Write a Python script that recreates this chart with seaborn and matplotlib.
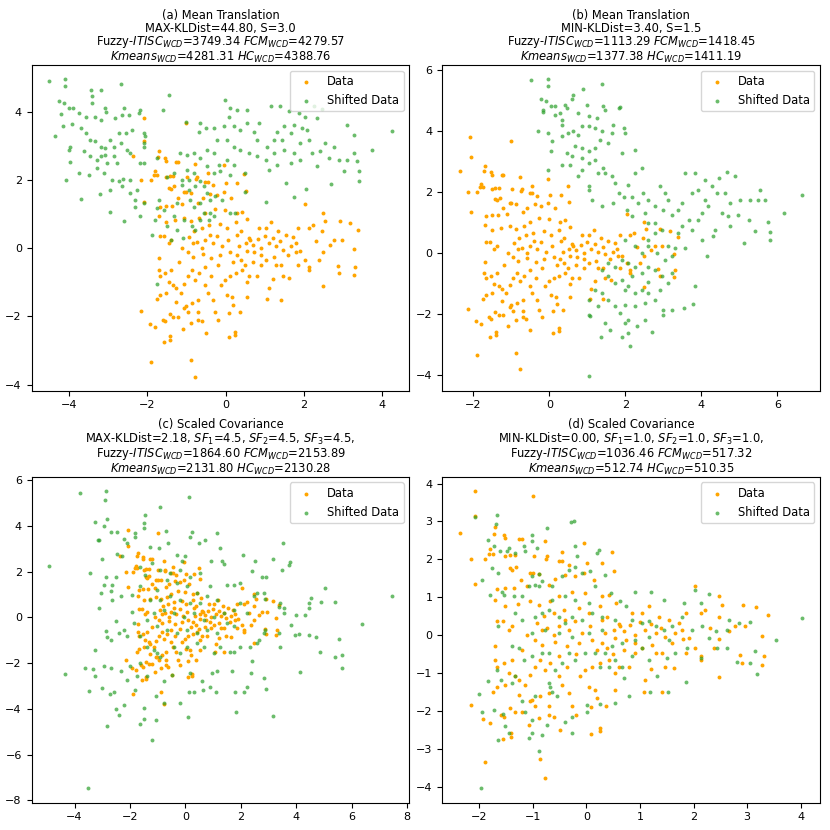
import numpy as np
import pandas as pd
import seaborn as sns
from matplotlib import pyplot as plt

plt.rcParams['font.size'] = 8
plt.rcParams['font.family'] = ['DejaVu Sans']

# Data cloud (same in all four panels)
data_pts = [
    (-2.08, 3.81), (-1.0, 3.68), (-2.07, 3.13), (-2.36, 2.69), (-2.15, 2.01), (-2.07, 1.35),
    (-1.9, 2.0), (-1.7, 2.84), (-1.73, 2.67), (-1.54, 2.65), (-1.52, 2.56), (-1.79, 2.27),
    (-1.82, 2.15), (-1.75, 2.15), (-1.51, 2.08), (-1.42, 2.12), (-1.33, 2.12), (-1.26, 2.54),
    (-1.21, 2.54), (-0.78, 2.48), (-0.98, 2.08), (-0.73, 2.08), (-0.75, 2.02), (-0.45, 2.2),
    (-0.05, 2.43), (0.48, 2.18), (0.51, 1.68), (0.3, 1.9), (0.01, 1.9), (-0.33, 1.86),
    (-0.52, 1.95), (-0.45, 1.95), (-1.43, 1.77), (-1.39, 1.73), (-1.31, 1.81), (-1.22, 1.46),
    (-1.05, 1.64), (-1.0, 1.64), (-0.89, 1.62), (-0.58, 1.48), (-0.39, 1.59), (-0.21, 1.55),
    (-0.05, 1.64), (0.14, 1.46), (-1.67, 1.21), (-1.52, 1.24), (-1.36, 1.24), (-1.11, 1.29),
    (-0.7, 1.33), (-0.52, 1.02), (-0.27, 1.15), (-0.02, 1.11), (0.29, 1.02), (0.42, 1.07),
    (0.55, 0.86), (-1.7, 0.93), (-1.51, 0.76), (-1.28, 0.83), (-1.05, 0.89), (-0.88, 0.8),
    (-0.67, 0.89), (-0.61, 0.58), (-0.42, 0.67), (-0.14, 0.71), (0.04, 0.58), (0.26, 0.76),
    (0.39, 0.49), (-1.67, 0.36), (-1.56, 0.36), (-1.45, 0.14), (-1.39, 0.23), (-0.92, 0.32),
    (-0.83, 0.14), (-0.73, 0.18), (-0.52, 0.23), (-0.33, 0.14), (-0.21, 0.36), (-0.08, 0.05),
    (0.07, 0.23), (0.35, 0.05), (0.51, 0.14), (0.63, 0.23), (0.82, 0.27), (-0.95, -0.12),
    (-0.83, -0.26), (-0.58, -0.17), (-0.36, -0.3), (-0.14, -0.21), (0.11, -0.12), (0.29, -0.21),
    (0.54, -0.08), (0.73, -0.12), (0.91, 0.01), (1.1, 0.14), (1.29, 0.05), (1.47, -0.04),
    (1.66, 0.05), (1.79, 0.14), (1.91, -0.08), (0.85, 0.58), (1.04, 0.58), (1.16, 0.76),
    (1.35, 0.49), (1.54, 0.4), (1.72, 0.32), (1.85, 0.58), (2.03, 1.29), (2.13, 0.58),
    (2.22, 0.67), (2.48, 1.02), (2.53, 0.8), (2.47, 0.49), (2.66, 0.1), (2.77, 0.23),
    (2.92, 0.8), (2.96, 0.23), (3.17, 0.73), (3.39, 0.53), (3.27, -0.02), (3.31, -0.56),
    (3.28, -0.78), (2.87, -0.52), (2.9, -0.74), (2.48, -0.11), (2.38, -0.34), (2.13, -0.65),
    (2.13, -0.56), (2.48, -1.11), (2.03, -0.34), (1.85, -0.48), (1.63, -0.87), (1.46, -0.83),
    (1.41, -0.48), (1.29, -0.48), (1.23, -0.26), (1.41, -1.51), (1.07, -1.49), (1.1, -1.18),
    (0.79, -0.83), (0.6, -0.83), (0.54, -1.0), (0.42, -0.65), (0.26, -0.74), (0.11, -0.83),
    (-0.02, -0.92), (-0.11, -1.09), (0.04, -1.36), (0.17, -1.44), (0.2, -1.66), (0.37, -1.87),
    (0.09, -1.9), (0.09, -2.61), (0.25, -2.46), (0.25, -2.54), (-0.19, -2.1), (-0.27, -1.87),
    (-0.33, -1.53), (-0.45, -1.31), (-0.52, -1.09), (-0.36, -0.83), (-0.52, -0.56), (-0.67, -0.74),
    (-0.77, -0.92), (-0.86, -0.65), (-0.95, -0.83), (-1.05, -1.05), (-1.14, -1.31), (-1.26, -1.18),
    (-1.26, -1.58), (-1.33, -1.09), (-1.45, -1.0), (-1.51, -1.31), (-1.67, -1.36), (-1.75, -1.49),
    (-1.7, -0.3), (-1.71, -0.65), (-1.67, -0.83), (-1.54, -0.74), (-1.38, -0.65), (-1.05, -1.75),
    (-0.95, -1.88), (-0.86, -1.62), (-0.7, -1.53), (-0.7, -1.88), (-0.61, -2.15), (-0.7, -2.1),
    (-0.88, -2.19), (-1.01, -1.71), (-1.21, -2.02), (-1.33, -2.02), (-1.42, -1.93), (-1.54, -2.15),
    (-1.6, -2.1), (-1.79, -2.31), (-1.92, -2.22), (-2.15, -1.84), (-1.56, -2.75), (-1.41, -2.59),
    (-1.41, -2.68), (-1.08, -2.37), (-0.5, -2.5), (-0.87, -3.27), (-1.9, -3.35), (-0.77, -3.78),
    (0.54, -1.44), (0.91, -0.48), (1.04, -0.34), (0.39, -0.34), (0.6, 0.3), (0.7, 0.1),
    (0.9, -0.2), (1.0, 0.35), (1.2, 0.3), (1.4, 0.2), (0.3, 0.4), (0.2, -0.4),
    (-0.2, -0.5), (-0.6, 0.0), (-0.4, 0.4), (-0.8, 0.5), (-1.1, 0.0), (-1.2, -0.4),
    (0.5, -0.5), (0.7, -0.4), (1.6, -0.2), (1.8, -0.1), (2.3, 0.2), (1.2, -0.9),
]

# (a) mean translation, S=3.0
shift_a_pts = [
    (-4.51, 4.91), (-4.1, 4.96), (-4.1, 4.76), (-4.26, 4.32), (-4.13, 4.25), (-4.0, 4.11),
    (-3.9, 4.11), (-4.21, 3.94), (-4.15, 3.57), (-4.36, 3.28), (-3.98, 2.98), (-4.0, 2.89),
    (-3.96, 2.54), (-4.08, 2.0), (-3.68, 1.45), (-3.74, 3.96), (-3.57, 3.86), (-3.92, 3.65),
    (-3.7, 3.52), (-3.57, 3.37), (-3.43, 4.65), (-3.4, 4.45), (-3.4, 4.25), (-3.17, 4.63),
    (-3.32, 3.86), (-3.19, 3.77), (-3.07, 4.11), (-3.04, 3.98), (-2.81, 3.81), (-2.67, 4.81),
    (-2.6, 4.11), (-2.64, 3.91), (-2.47, 3.91), (-2.38, 3.47), (-2.55, 3.37), (-2.19, 4.06),
    (-2.2, 3.96), (-2.09, 3.37), (-2.05, 3.28), (-2.72, 3.37), (-2.94, 3.18), (-3.32, 3.13),
    (-3.45, 3.18), (-3.19, 2.98), (-3.07, 2.93), (-2.85, 2.98), (-2.68, 3.08), (-2.51, 2.89),
    (-2.43, 2.79), (-3.62, 2.84), (-3.45, 2.69), (-3.28, 2.59), (-3.19, 2.69), (-3.07, 2.74),
    (-2.85, 2.69), (-2.77, 2.49), (-3.02, 2.49), (-3.28, 2.35), (-3.74, 2.2), (-3.49, 2.15),
    (-3.11, 2.2), (-2.89, 2.0), (-2.72, 1.96), (-2.61, 2.02), (-2.43, 2.0), (-2.64, 1.83),
    (-3.21, 1.58), (-2.94, 1.71), (-2.43, 1.61), (-2.96, 1.06), (-2.58, 0.8), (-2.26, 1.71),
    (-2.32, 1.42), (-2.17, 2.49), (-2.09, 2.51), (-2.3, 1.22), (-2.09, 1.32), (-2.17, 0.93),
    (-1.43, 4.5), (-1.6, 4.06), (-0.02, 4.35), (0.12, 4.11), (0.29, 4.06), (0.08, 3.86),
    (0.55, 4.06), (1.17, 4.16), (1.4, 4.16), (1.61, 4.01), (1.87, 3.96), (2.25, 4.18),
    (2.46, 4.09), (2.04, 3.84), (2.34, 3.83), (3.1, 3.61), (3.27, 3.33), (3.74, 2.87),
    (4.25, 3.45), (3.4, 2.25), (3.36, 2.56), (3.4, 1.96), (3.02, 2.25), (2.89, 2.59),
    (2.68, 1.88), (2.34, 2.4), (2.64, 2.64), (2.42, 2.84), (2.55, 3.08), (2.21, 2.79),
    (2.12, 3.18), (1.91, 3.08), (2.08, 3.47), (1.95, 3.52), (1.74, 3.62), (1.66, 3.37),
    (1.49, 3.57), (1.32, 3.42), (1.45, 3.18), (1.23, 3.18), (1.06, 2.98), (0.8, 3.18),
    (0.72, 3.42), (0.85, 3.67), (0.55, 3.67), (0.38, 3.47), (0.21, 3.57), (-0.05, 3.57),
    (-0.3, 3.52), (-0.51, 3.52), (-0.68, 3.42), (-0.64, 3.67), (-1.0, 3.71), (-0.22, 3.18),
    (0.04, 3.18), (0.21, 2.98), (0.38, 2.89), (0.59, 2.79), (0.8, 2.69), (1.02, 2.59),
    (1.23, 2.79), (1.49, 2.89), (1.74, 2.79), (1.91, 2.59), (1.66, 2.49), (1.32, 2.45),
    (1.1, 2.3), (1.53, 1.91), (1.74, 1.49), (2.06, 1.74), (1.02, 1.34), (0.5, 2.2),
    (0.5, 1.66), (0.21, 2.45), (0.04, 2.59), (-0.17, 2.45), (-0.3, 2.79), (-0.47, 2.89),
    (-0.64, 2.64), (-0.81, 2.79), (-0.98, 2.74), (-1.15, 2.79), (-0.47, 2.4), (-0.3, 2.2),
    (-0.13, 2.25), (0.12, 2.15), (2.76, 2.98), (3.27, 2.79), (3.1, 2.59),
    (-2.09, 3.08), (-2.09, 2.98), (-1.75, 2.64), (-1.49, 2.1), (-1.32, 2.2), (-1.11, 2.0),
    (-1.11, 1.86), (-0.94, 2.0), (-0.81, 2.2), (-0.77, 1.81), (-0.64, 1.96), (-0.56, 1.81),
    (-0.47, 1.61), (-0.39, 1.42), (-0.26, 1.52), (-0.09, 1.42), (0.12, 1.03), (0.25, 1.03),
    (-0.9, 1.42), (-0.81, 1.22), (-0.64, 1.32), (-0.56, 1.03), (-0.39, 1.03), (-0.43, 0.83),
    (-0.3, 0.93), (-0.64, 0.83), (-0.86, 0.64), (-0.77, 0.54), (-1.07, 0.83), (-1.24, 1.32),
    (-1.32, 0.93), (-1.58, 1.12), (-1.7, 1.42), (-1.75, 1.17), (-1.79, 0.83), (-1.49, 0.64),
    (-1.4, 0.24), (-1.08, 0.31), (-1.87, 0.39), (-1.76, -1.05), (-1.24, 0.54), (-0.94, 1.71),
    (-0.98, 2.3),
]

# (b) mean translation, S=1.5
shift_b_pts = [
    (-0.48, 5.65), (-0.04, 5.69), (-0.04, 5.47), (0.88, 5.37), (1.38, 5.54), (-0.22, 5.04),
    (-0.09, 4.96), (0.04, 4.82), (0.15, 4.82), (0.61, 5.18), (0.59, 5.04), (0.41, 4.85),
    (0.46, 4.74), (0.98, 4.85), (1.42, 4.82), (1.46, 4.69), (1.82, 4.74), (1.86, 4.78),
    (-0.18, 4.69), (-0.18, 4.63), (0.15, 4.53), (0.28, 4.58), (0.76, 4.58), (1.03, 4.47),
    (1.25, 4.42), (-0.29, 4.0), (-0.03, 3.93), (0.06, 3.65), (0.04, 3.33), (0.32, 4.36),
    (0.32, 4.2), (0.32, 3.82), (0.5, 3.93), (0.63, 3.98), (0.76, 3.87), (0.85, 4.14),
    (1.03, 4.14), (1.2, 4.09), (1.38, 3.98), (1.33, 3.71), (1.68, 4.2), (1.64, 3.93),
    (1.55, 3.6), (1.95, 4.09), (1.99, 3.93), (2.25, 3.38), (1.9, 3.27), (0.68, 3.49),
    (0.85, 3.44), (1.03, 3.33), (1.2, 3.44), (0.46, 3.27), (0.59, 3.16), (0.85, 3.11),
    (1.03, 2.94), (1.2, 3.05), (1.42, 2.78), (1.46, 2.62), (0.32, 2.89), (0.54, 2.89),
    (0.85, 2.73), (0.76, 2.51), (1.03, 2.18), (1.29, 2.62), (1.64, 2.51), (1.73, 2.29),
    (1.82, 1.96), (1.95, 1.85), (1.68, 1.64), (1.38, 1.53), (1.11, 1.74), (1.03, 2.07),
    (-0.03, 2.73),
    (2.25, 2.62), (2.43, 2.78), (2.08, 2.24), (2.17, 1.85), (2.04, 1.42), (2.17, 1.2),
    (2.34, 1.64), (2.47, 1.96), (2.6, 1.74), (2.51, 1.31), (2.78, 1.53), (2.91, 2.18),
    (3.04, 1.96), (3.13, 1.74), (3.0, 1.42), (2.78, 0.98), (2.96, 0.76), (2.6, 0.98),
    (3.22, 1.25), (3.39, 1.42), (3.48, 1.64), (3.57, 2.62), (3.82, 2.62), (3.75, 1.96),
    (3.92, 2.07), (4.1, 2.4), (4.27, 2.18), (4.45, 2.45), (4.67, 2.64), (4.89, 2.51),
    (4.4, 1.96), (4.62, 1.96), (4.75, 1.64), (5.01, 1.74), (5.28, 1.74), (5.5, 1.74),
    (5.68, 1.74), (5.54, 2.07), (6.64, 1.91), (6.16, 1.31), (5.76, 1.0), (5.8, 0.68),
    (5.8, 0.44), (5.41, 0.71), (5.11, 0.33), (4.75, 0.87), (4.96, 1.25), (5.24, 1.09),
    (4.1, 1.74), (4.18, 1.53), (4.01, 1.31), (3.92, 1.09), (3.66, 1.09), (3.48, 0.87),
    (3.75, 0.76), (4.01, 0.44), (4.36, 0.76), (4.31, 0.55), (4.14, -0.09), (4.54, 1.31),
    (4.71, 1.2), (3.39, 0.65), (3.31, 0.16), (3.57, 0.16), (3.13, 0.22), (2.78, 0.65),
    (2.6, 0.44),
    (1.99, 0.44), (2.25, 0.22), (2.43, 0.0), (2.6, 0.22), (2.82, 0.0), (3.04, -0.22),
    (3.22, -0.11), (3.22, -0.65), (3.13, -0.98), (2.96, -0.76), (2.78, -0.55), (2.6, -0.44),
    (2.43, -0.65), (2.25, -0.44), (2.08, -0.33), (1.9, -0.22), (1.73, -0.44), (1.55, -0.33),
    (1.38, -0.55), (1.55, -0.76), (1.73, -0.98), (1.9, -0.87), (2.08, -1.09), (2.25, -1.31),
    (2.43, -1.2), (2.6, -1.31), (2.78, -1.53), (3.0, -1.85), (3.22, -1.85), (3.53, -1.8),
    (3.82, -1.09), (3.79, -1.66), (2.52, -1.64), (2.25, -1.74), (1.99, -1.69), (1.86, -1.96),
    (1.73, -1.74), (1.55, -1.53), (1.38, -1.31), (1.2, -1.2), (1.03, -1.53), (1.29, -1.74),
    (1.03, -2.02), (1.46, -2.29), (1.6, -2.51), (1.9, -2.73), (2.08, -2.62), (2.12, -3.05),
    (2.3, -2.4), (2.08, -2.18), (2.52, -2.18), (2.71, -2.58), (3.0, -2.02), (1.99, -2.29),
    (1.36, -2.75), (1.03, -4.03), (1.07, -2.07), (1.99, -1.2), (2.17, -0.76), (2.6, -0.93),
    (2.91, -1.2),
]

# (c) scaled covariance, SF=4.5
shift_c_pts = [
    (-4.93, 2.26), (-3.79, 5.44), (-2.88, 5.55), (-2.91, 5.15), (-2.82, 4.31), (-3.25, 4.17),
    (-2.94, 4.02), (-2.7, 3.76), (-2.46, 3.76), (-3.16, 3.4), (-3.1, 3.37), (-3.0, 2.55),
    (-3.43, 1.94), (-2.88, 1.79), (-2.94, 1.43), (-2.64, 1.43), (-2.52, 1.79), (-2.46, 2.78),
    (-2.28, 2.67), (-2.22, 3.43), (-2.1, 3.25), (-3.06, 1.06), (-2.7, 1.14), (-3.13, 0.41),
    (-2.64, 0.77), (-2.34, 0.92), (-2.52, -0.17), (-2.85, -0.61), (-2.82, -0.86), (-3.25, -1.41),
    (-2.7, -0.98), (-2.4, -0.69), (-2.22, -0.54), (-2.1, -0.83), (-3.61, -2.22), (-3.33, -2.26),
    (-2.92, -2.14), (-2.7, -2.19), (-3.25, -2.54), (-3.0, -3.09), (-3.49, -3.21), (-4.33, -2.46),
    (-2.73, -3.34), (-2.58, -3.24), (-2.82, -4.74), (-2.52, -4.01), (-2.39, -4.26), (-2.2, -3.82),
    (-2.32, -2.36), (-1.98, -2.14), (-2.1, -2.73), (-1.8, -3.16), (-1.65, -4.65), (-1.48, -4.45),
    (-1.5, -3.96), (-1.2, -5.35), (-1.05, -4.5), (-1.06, -3.43), (-0.78, -3.75), (-0.78, -2.8),
    (-0.48, -2.51), (-0.18, -3.72), (0.12, -3.24), (0.3, -3.24), (0.1, -4.36), (0.16, -2.43),
    (0.6, -2.8), (0.63, -3.19), (0.9, -3.05), (1.12, -3.28), (0.96, -2.43), (1.14, -2.36),
    (1.68, -2.36), (1.8, -3.24), (1.83, -4.15), (2.1, -3.24), (2.22, -3.02), (2.37, -2.43),
    (2.4, -1.92), (2.82, -2.65), (2.92, -3.13), (3.16, -4.33), (1.62, -1.49), (1.74, -1.49),
    (1.98, -1.3), (2.34, -1.27), (2.58, -1.12), (2.64, -0.98), (2.88, -0.54), (2.82, -0.69),
    (3.4, -1.27), (3.37, -0.69), (3.37, 0.48), (3.55, 0.41), (3.43, 0.63), (3.55, 0.19),
    (3.82, -0.32), (3.94, -0.76), (4.09, -0.73), (4.0, 0.12), (4.3, 0.12), (4.45, 0.63),
    (4.45, 0.41), (4.53, 0.85), (4.45, -0.76), (4.71, -0.87), (4.9, 0.66), (5.05, 1.28),
    (5.38, 0.67), (4.84, -1.53), (5.38, -1.71), (5.55, -0.92), (5.65, -1.63), (5.65, -2.19),
    (4.12, -2.39), (6.37, -0.29), (7.45, 0.96), (3.16, 2.55), (3.52, 3.25), (3.73, 2.3),
    (3.76, 2.41), (3.49, 2.08), (2.52, 2.45), (2.4, 2.05), (2.08, 2.74), (2.76, 1.79),
    (2.92, 1.79), (2.82, 1.06), (2.88, 0.8), (2.58, 1.09), (2.46, 0.92), (1.98, 1.5),
    (1.74, 1.43), (1.5, 1.43), (1.14, 3.69), (1.26, 3.03), (1.32, 2.49), (1.38, 2.35),
    (0.93, 2.49), (0.69, 3.4), (0.5, 3.25), (0.24, 3.76), (0.18, 3.54), (0.14, 5.25),
    (0.0, 2.67), (-0.12, 2.49), (-0.32, 2.74), (-0.7, 3.79), (-0.93, 4.85), (-0.63, 3.25),
    (-0.96, 3.03), (-1.29, 3.1), (-1.44, 4.49), (-1.48, 4.15), (-1.48, 3.93), (-1.8, 3.69),
    (-1.8, 3.54), (-1.62, 2.23), (-1.44, 1.87), (-1.62, 1.36), (-1.92, 0.99), (-1.92, 0.26),
    (-1.86, -0.25), (-1.62, -0.83), (-1.38, -1.27), (-1.14, -1.41), (-0.9, -1.71), (-1.62, -2.0),
    (-1.74, -2.58), (-1.38, -2.58), (-1.02, -1.56), (-0.42, -1.27), (-0.18, -1.56), (0.06, -1.27),
    (0.42, -1.12), (0.66, -1.27), (1.02, -1.56), (1.26, -1.27), (1.14, -0.69), (0.78, -0.54),
    (0.42, -0.69), (0.06, -0.54), (-0.3, -0.69), (-0.66, -0.54), (-1.02, -0.39), (-1.38, -0.1),
    (-1.14, 0.19), (-0.78, 0.34), (-0.42, 0.19), (-0.06, 0.04), (0.3, 0.19), (0.66, -0.1),
    (1.02, 0.04), (1.38, 0.19), (1.74, 0.34), (1.98, 0.63), (2.22, 0.19), (1.74, -0.39),
    (1.5, -0.25), (1.14, 0.77), (0.78, 0.92), (0.42, 1.06), (0.06, 1.36), (-0.3, 1.5),
    (-0.66, 1.65), (-1.02, 1.21), (-1.26, 0.77), (-0.9, 0.77), (-0.54, 0.92), (-0.18, 0.77),
    (0.18, 0.63), (0.54, 0.63), (0.9, 1.36), (0.54, 1.94), (0.18, 1.79), (-0.18, 2.08),
    (-0.54, 1.94), (-0.9, 2.08), (-1.2, 2.38), (-3.5, -7.45),
]

# (d) scaled covariance, SF=1.0
shift_d_pts = [
    (-2.08, 3.12), (-1.67, 3.16), (-1.68, 2.94), (-0.73, 2.83), (-0.24, 3.01), (-1.84, 2.52),
    (-1.72, 2.36), (-1.61, 2.21), (-1.48, 2.21), (-1.33, 2.17), (-1.17, 2.34), (-1.02, 2.47),
    (-1.02, 2.65), (-0.92, 2.3), (-1.14, 2.21), (-0.21, 2.34), (-0.17, 2.08), (0.23, 2.25),
    (0.2, 2.17), (-1.76, 1.77), (-1.64, 1.64), (-1.95, 1.46), (-1.79, 1.07), (-1.57, 1.15),
    (-1.54, 1.07), (-1.36, 1.02), (-1.2, 1.02), (-1.08, 1.29), (-0.95, 1.33), (-0.88, 1.29),
    (-0.83, 1.42), (-0.89, 1.6), (-1.02, 1.55), (-0.64, 1.29), (-0.45, 1.55), (-0.33, 1.73),
    (-0.21, 1.81), (-0.08, 1.64), (0.07, 1.68), (0.35, 1.59), (0.17, 1.29), (0.45, 1.11),
    (0.63, 0.89), (0.91, 1.15), (1.2, 1.15), (1.44, 0.93), (1.82, 0.85), (2.03, 1.2),
    (2.13, 0.85), (2.28, 1.09), (-1.33, 0.58), (-1.2, 0.4), (-1.64, 0.23), (-1.39, -0.3),
    (-1.26, -0.34), (-0.95, 0.49), (-0.83, 0.58), (-0.7, 0.67), (-0.52, 0.49), (-0.39, 0.32),
    (-0.27, 0.49), (-0.08, 0.4), (0.11, 0.58), (0.29, 0.49), (0.54, 0.4), (0.73, 0.76),
    (0.85, 0.4), (1.04, 0.32), (1.16, 0.36), (1.29, 0.23), (1.44, 0.14), (1.6, 0.23),
    (1.79, 0.49), (1.97, 0.14), (2.15, 0.23), (2.28, -0.08), (2.41, 0.1), (2.63, 0.14),
    (2.66, 0.4), (2.85, 0.32), (3.06, 0.34), (3.53, -0.12), (4.03, 0.45), (3.14, -0.43),
    (3.19, -1.03), (3.05, -0.74), (2.81, -0.7), (2.63, -0.34), (2.44, -0.34), (2.13, -0.61),
    (1.88, -0.34), (1.86, -1.25), (1.66, -0.48), (1.51, -0.61), (1.52, -1.51), (1.32, -1.09),
    (1.18, -1.51), (1.16, -0.65), (1.04, -0.34), (0.85, -0.56), (0.67, -0.83), (0.7, -1.14),
    (0.79, -1.62), (0.54, -1.8), (0.26, -1.81), (0.01, -1.84), (0.01, -2.02), (-0.27, -2.57),
    (-0.27, -2.15), (-0.39, -2.28), (-0.55, -1.62), (-0.64, -1.49), (-0.7, -1.27), (-0.58, -0.92),
    (-0.45, -0.74), (-0.33, -0.48), (-0.21, -0.65), (-0.02, -0.48), (0.17, -0.48), (0.35, -0.48),
    (0.48, -0.3), (0.67, -0.21), (-0.7, -0.48), (-0.83, -0.48), (-1.02, -0.56), (-1.17, -0.65),
    (-1.33, -1.09), (-1.39, -1.27), (-1.6, -1.18), (-1.66, -0.92), (-1.84, -1.21), (-2.0, -1.56),
    (-1.95, -2.03), (-1.73, -1.97), (-1.56, -2.09), (-1.51, -2.39), (-1.45, -2.59), (-1.64, -2.76),
    (-1.2, -1.75), (-1.14, -2.02), (-1.02, -2.24), (-1.08, -2.72), (-0.89, -3.05), (-0.83, -2.63),
    (-0.73, -2.37), (-1.02, -2.59), (-0.67, -1.36), (-0.95, -1.62), (-1.96, -4.04), (0.26, -0.83),
    (0.42, -0.83), (0.54, -0.65), (0.91, -0.12), (1.16, -0.04), (1.54, -0.12), (0.29, 0.14),
    (0.04, 0.05), (-0.27, -0.04), (-0.52, 0.05), (-0.77, 0.14), (-1.02, 0.05), (-0.64, 0.93),
    (-0.39, 1.02), (-0.21, 0.93), (0.04, 0.85), (-0.28, 2.99), (-1.45, 2.3),
]

titles = [
    "(a) Mean Translation\nMAX-KLDist=44.80, S=3.0\n"
    "Fuzzy-$ITISC_{WCD}$=3749.34 $FCM_{WCD}$=4279.57\n"
    "$Kmeans_{WCD}$=4281.31 $HC_{WCD}$=4388.76",
    "(b) Mean Translation\nMIN-KLDist=3.40, S=1.5\n"
    "Fuzzy-$ITISC_{WCD}$=1113.29 $FCM_{WCD}$=1418.45\n"
    "$Kmeans_{WCD}$=1377.38 $HC_{WCD}$=1411.19",
    "(c) Scaled Covariance\nMAX-KLDist=2.18, $SF_1$=4.5, $SF_2$=4.5, $SF_3$=4.5,\n"
    "Fuzzy-$ITISC_{WCD}$=1864.60 $FCM_{WCD}$=2153.89\n"
    "$Kmeans_{WCD}$=2131.80 $HC_{WCD}$=2130.28",
    "(d) Scaled Covariance\nMIN-KLDist=0.00, $SF_1$=1.0, $SF_2$=1.0, $SF_3$=1.0,\n"
    "Fuzzy-$ITISC_{WCD}$=1036.46 $FCM_{WCD}$=517.32\n"
    "$Kmeans_{WCD}$=512.74 $HC_{WCD}$=510.35",
]

shifted_sets = [shift_a_pts, shift_b_pts, shift_c_pts, shift_d_pts]
xlims = [(-4.95, 4.69), (-2.82, 7.12), (-5.55, 8.08), (-2.69, 4.36)]
ylims = [(-4.18, 5.38), (-4.50, 6.16), (-8.1, 6.16), (-4.42, 4.18)]

df_data = pd.DataFrame(data_pts, columns=["x", "y"])

fig, axes = plt.subplots(2, 2, figsize=(8.3, 8.3), dpi=100)
for i, ax in enumerate(axes.flat):
    df_shift = pd.DataFrame(shifted_sets[i], columns=["x", "y"])
    sns.scatterplot(data=df_data, x="x", y="y", ax=ax, color="orange", s=8,
                    linewidth=0, alpha=1.0, label="Data")
    sns.scatterplot(data=df_shift, x="x", y="y", ax=ax, color="tab:green", s=8,
                    linewidth=0, alpha=0.7, label="Shifted Data")
    ax.set_xlim(*xlims[i])
    ax.set_ylim(*ylims[i])
    ax.set_xlabel("")
    ax.set_ylabel("")
    ax.set_title(titles[i], fontsize=8.3, linespacing=0.95, pad=3)
    ax.legend(loc="upper right", fontsize=8.3)

plt.subplots_adjust(left=0.038, right=0.988, top=0.922, bottom=0.033,
                    wspace=0.087, hspace=0.264)
plt.savefig("out.png", dpi=100)
